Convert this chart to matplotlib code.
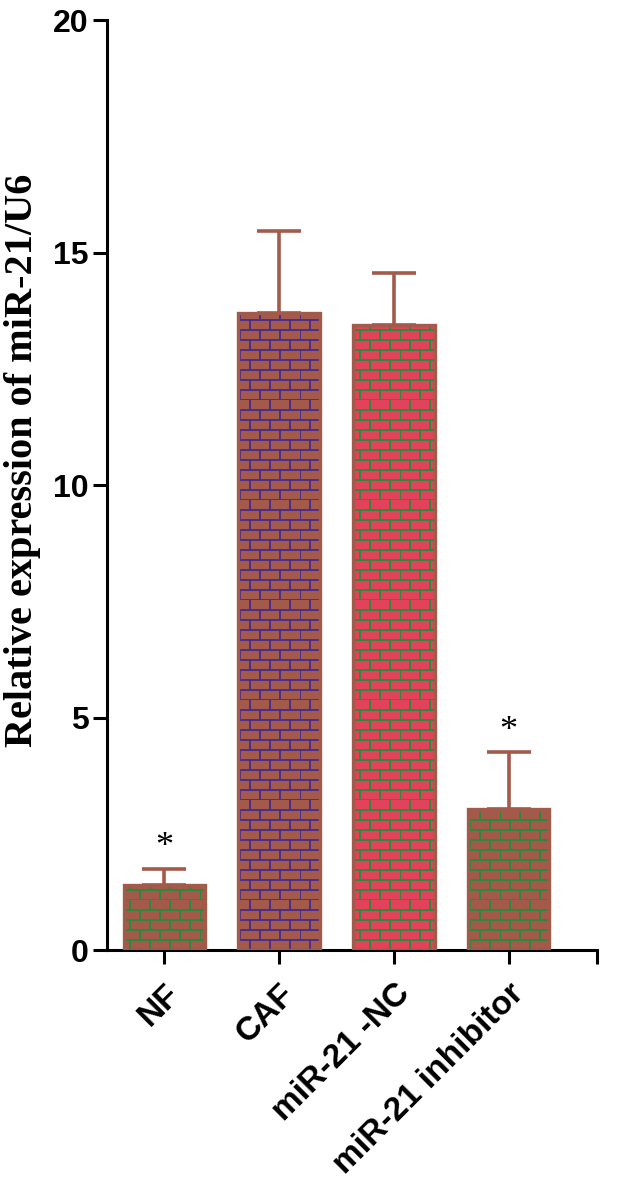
import warnings
import numpy as np
import matplotlib
matplotlib.use('Agg')
import matplotlib.pyplot as plt
from matplotlib import hatch as mhatch

warnings.filterwarnings('ignore')

# data
groups = ['NF', 'CAF', 'miR-21 -NC', 'miR-21 inhibitor']
means = [1.40, 13.70, 13.45, 3.05]
upper_err = [0.36, 1.77, 1.12, 1.21]
significant = [True, False, False, True]

brown = '#A35A4B'
fills = [brown, brown, '#E2435B', brown]
brick_colors = ['#2B8A3C', '#4A2E8E', '#2B8A3C', '#2B8A3C']


###########################################
# brick hatch ('b')
###########################################

class BrickHatch(mhatch.HatchPatternBase):
    rows = 10
    cols = 5

    def __init__(self, hatch, density):
        self.on = 'b' in hatch
        self.num_vertices = (self.rows * 2 + self.rows * self.cols * 2) if self.on else 0

    def set_vertices_and_codes(self, vertices, codes):
        k = 0
        for i in range(self.rows):
            y0 = i / self.rows
            vertices[k] = (0.0, y0); vertices[k+1] = (1.0, y0)
            k += 2
            for j in range(self.cols):
                x = ((j + 0.5 * (i % 2)) / self.cols) % 1.0
                vertices[k] = (x, y0); vertices[k+1] = (x, y0 + 1.0 / self.rows)
                k += 2
        codes[0::2] = mhatch.Path.MOVETO
        codes[1::2] = mhatch.Path.LINETO

mhatch._hatch_types.append(BrickHatch)
plt.rcParams['hatch.linewidth'] = 1.4

###########################################
# plot
###########################################

fig = plt.figure(figsize=(6.44, 11.85), dpi=100)
ax = fig.add_axes([0.166, 0.198, 0.761, 0.785])

x = np.arange(len(groups))
w = 0.71

ax.errorbar(x, means, yerr=[np.zeros(len(means)), upper_err], fmt='none',
            ecolor=brown, elinewidth=2.6, capsize=16, capthick=2.6, zorder=1)
for i in range(len(groups)):
    ax.bar(x[i], means[i], w, color=fills[i], edgecolor=brick_colors[i],
           hatch='b', linewidth=0, zorder=2)
    ax.bar(x[i], means[i], w, fill=False, edgecolor=brown, linewidth=2.4, zorder=3)
    if significant[i]:
        ax.text(x[i], means[i] + upper_err[i] + 0.1, '*', ha='center', va='bottom',
                fontsize=26, family='Liberation Serif', color='black')

ax.set_xlim(-0.5, 3.77)
ax.set_ylim(0, 20)
ax.set_yticks([0, 5, 10, 15, 20])
ax.set_xticks(list(x) + [3.77])
ax.set_xticklabels(groups + [''], rotation=45, ha='right', va='top',
                   rotation_mode='anchor', fontsize=24, fontweight='bold',
                   family='Liberation Sans')
for lab in ax.get_yticklabels():
    lab.set_fontsize(23); lab.set_fontweight('bold'); lab.set_family('Liberation Sans')

ax.spines['top'].set_visible(False)
ax.spines['right'].set_visible(False)
ax.spines['left'].set_linewidth(2.2)
ax.spines['bottom'].set_linewidth(2.2)
ax.spines['bottom'].set_bounds(-0.5, 3.77)
ax.tick_params(axis='y', length=10, width=2.2, pad=3)
ax.tick_params(axis='x', length=10, width=2.2, pad=10)

ax.set_ylabel('Relative expression of miR-21/U6', fontsize=29, fontweight='bold',
              family='Liberation Serif')
ax.yaxis.set_label_coords(-0.135, 0.527)

fig.savefig('out.png', dpi=100)
